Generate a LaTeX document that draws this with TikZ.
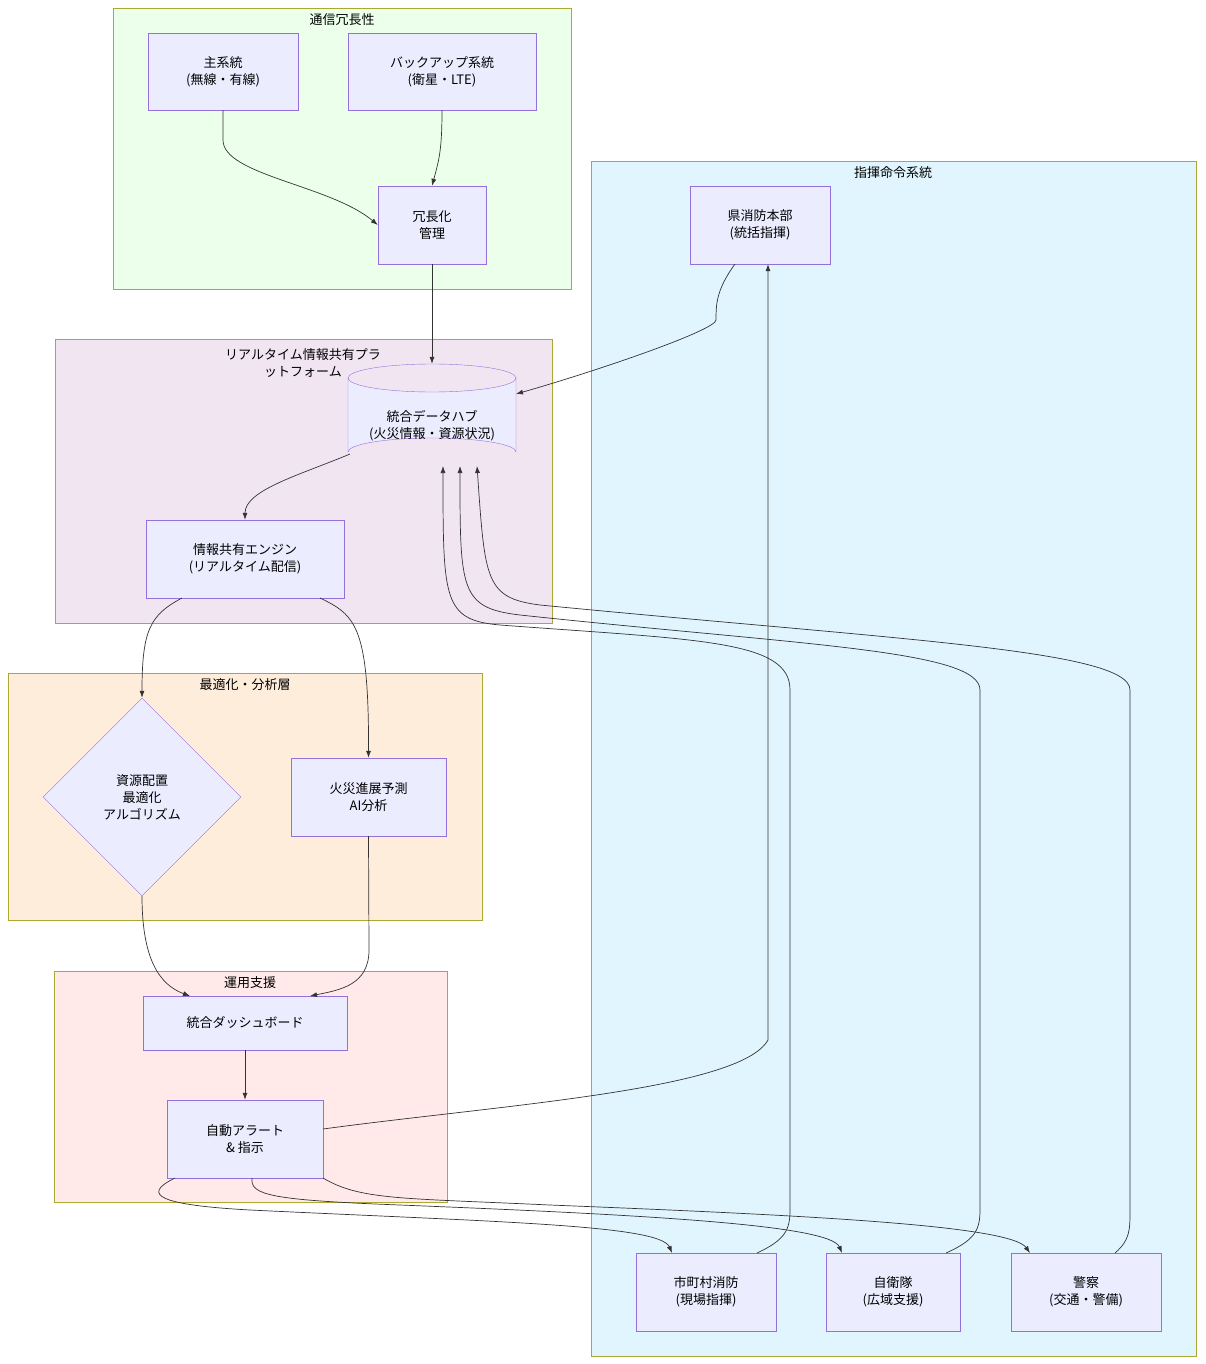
\documentclass[tikz,border=0pt]{standalone}
\usepackage{fontspec}
\setmainfont{Noto Sans CJK JP}
\usetikzlibrary{shapes.geometric,arrows.meta}
\definecolor{nodefill}{HTML}{ECECFF}
\definecolor{nodeline}{HTML}{9370DB}
\definecolor{clusterline}{HTML}{AAAA33}
\definecolor{edgecol}{HTML}{333333}
\begin{document}
\begin{tikzpicture}[%
    x=1pt, y=-1pt,
    >={Latex[length=7pt,width=5pt]},
    font=\fontsize{13}{17}\selectfont,
    box/.style={draw=nodeline, fill=nodefill, align=center, inner sep=0pt},
    cluster/.style={draw=clusterline, fill=#1},
    flow/.style={->, draw=edgecol, line width=0.7pt}
    ]
    \useasboundingbox (0,0) rectangle (1205,1364);

    % clusters
    \draw[cluster={green!8}]  (113,8) rectangle (571,289);
    \node (tComm) at (342,20) {通信冗長性};
    \draw[cluster={cyan!12}]  (591,161) rectangle (1196,1356);
    \node (tCmd) at (893,173) {指揮命令系統};
    \draw[cluster={violet!10}] (55,339) rectangle (552,623);
    \node[align=center] (tRT) at (303,363) {リアルタイム情報共有プラ\\ットフォーム};
    \draw[cluster={orange!14}] (8,673) rectangle (482,920);
    \node (tOpt) at (245,685) {最適化・分析層};
    \draw[cluster={pink!35}] (54,971) rectangle (447,1202);
    \node (tOps) at (250,983) {運用支援};

    % nodes
    \node[box, minimum width=150pt, minimum height=77pt] (main) at (223,71.5) {主系統\\(無線・有線)};
    \node[box, minimum width=188pt, minimum height=77pt] (backup) at (442,71.5) {バックアップ系統\\(衛星・LTE)};
    \node[box, minimum width=108pt, minimum height=78pt] (redund) at (432,225) {冗長化\\管理};
    \node[box, minimum width=140pt, minimum height=78pt] (pref) at (760,225) {県消防本部\\(統括指揮)};
    \node[box, minimum width=140pt, minimum height=78pt] (city) at (706,1292) {市町村消防\\(現場指揮)};
    \node[box, minimum width=134pt, minimum height=78pt] (sdf) at (893,1292) {自衛隊\\(広域支援)};
    \node[box, minimum width=150pt, minimum height=78pt] (police) at (1086,1292) {警察\\(交通・警備)};
    \node[box, minimum width=198pt, minimum height=78pt] (engine) at (245,559) {情報共有エンジン\\(リアルタイム配信)};
    \node[box, minimum width=155pt, minimum height=78pt] (fire) at (368.5,797) {火災進展予測\\AI分析};
    \node[box, minimum width=204pt, minimum height=54pt] (dash) at (245,1023) {統合ダッシュボード};
    \node[box, minimum width=156pt, minimum height=78pt] (alert) at (245,1139) {自動アラート\\\& 指示};
    \node[box, diamond, minimum width=198pt, minimum height=198pt] (alloc) at (142,797) {};
    \node[align=center] (allocText) at (142,797) {資源配置\\最適化\\アルゴリズム};

    % cylinder
    \draw[draw=nodeline, fill=nodefill] (348,378) -- (348,452)
        arc[start angle=180, end angle=360, x radius=84, y radius=14] -- (516,378)
        arc[start angle=0, end angle=180, x radius=84, y radius=14];
    \draw[draw=nodeline] (348,378) arc[start angle=180, end angle=360, x radius=84, y radius=14];
    \node[align=center, minimum width=168pt, minimum height=102pt, inner sep=0pt] (hub) at (432,415) {};
    \node[align=center] (hubText) at (432,426) {統合データハブ\\(火災情報・資源状況)};

    % edges
    \draw[flow] (main.south) -- (223,140) .. controls (223,175) and (330,185) .. (redund.west);
    \draw[flow] (backup.south) .. controls (442,150) and (439,160) .. (redund.north);
    \draw[flow] (redund.south) -- (hub.north);
    \draw[flow] (735,264) .. controls (716,290) and (716,305) .. (716,320) .. controls (716,330) and (600,370) .. (516,394);
    \draw[flow] (350,454) .. controls (300,475) and (245,490) .. (engine.north);
    \draw[flow] (182,598) .. controls (150,615) and (142,630) .. (alloc.north);
    \draw[flow] (320,598) .. controls (355,615) and (369,625) .. (fire.north);
    \draw[flow] (alloc.south) .. controls (142,960) and (160,985) .. (190,996);
    \draw[flow] (fire.south) -- (369,950) .. controls (369,985) and (340,990) .. (310,996);
    \draw[flow] (dash.south) -- (alert.north);
    \draw[flow] (323,1129) .. controls (500,1105) and (740,1090) .. (768,1040) -- (pref.south -| 768,0);
    \draw[flow] (175,1178) .. controls (140,1195) and (160,1205) .. (250,1210) .. controls (500,1222) and (660,1225) .. (672,1253);
    \draw[flow] (252,1178) .. controls (250,1195) and (270,1200) .. (400,1205) .. controls (650,1215) and (830,1225) .. (842,1253);
    \draw[flow] (323,1178) .. controls (360,1200) and (400,1198) .. (550,1205) .. controls (800,1215) and (1010,1225) .. (1030,1253);
    \draw[flow] (757,1253) .. controls (785,1240) and (790,1230) .. (790,1210) -- (790,690) .. controls (790,640) and (700,640) .. (500,625) .. controls (443,620) and (443,600) .. (443,466);
    \draw[flow] (946,1253) .. controls (975,1240) and (980,1230) .. (980,1210) -- (980,690) .. controls (980,650) and (800,645) .. (520,615) .. controls (460,608) and (460,590) .. (460,466);
    \draw[flow] (1115,1253) .. controls (1130,1240) and (1130,1230) .. (1130,1210) -- (1130,690) .. controls (1130,650) and (900,640) .. (540,605) .. controls (485,598) and (485,580) .. (477,466);
\end{tikzpicture}
\end{document}
